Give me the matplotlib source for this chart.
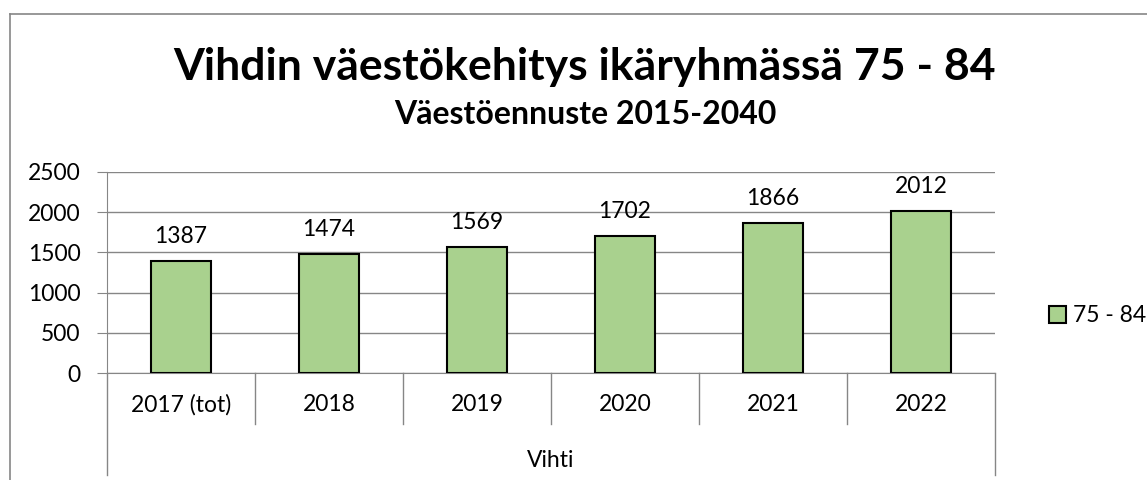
import matplotlib.pyplot as plt
import numpy as np

plt.rcParams['font.family'] = ['Lato', 'DejaVu Sans']

categories = ["2017 (tot)", "2018", "2019", "2020", "2021", "2022"]
values = [1387, 1474, 1569, 1702, 1866, 2012]
series_name = "75 - 84"
group_name = "Vihti"
yticks = [0, 500, 1000, 1500, 2000, 2500]

grid_col = "#868686"
bar_col = "#A9D18E"
W, H = 1147, 480

fig = plt.figure(figsize=(W / 100, H / 100), dpi=100)
ax = fig.add_axes([107 / W, 107 / H, 888 / W, 201 / H])

x = np.arange(len(categories))
bars = ax.bar(x, values, width=0.4, color=bar_col, edgecolor="black", linewidth=1.5, zorder=3,
              label=series_name)
for xi, v in zip(x, values):
    ax.annotate(str(v), (xi, v), xytext=(0, 13), textcoords="offset points",
                ha="center", va="baseline", fontsize=16.5, zorder=4)

ax.set_xlim(-0.5, len(categories) - 0.5)
ax.set_ylim(0, 2500)
ax.set_yticks(yticks)
ax.set_yticklabels([str(t) for t in yticks], fontsize=16.5)
ax.tick_params(axis="y", length=7, color=grid_col, pad=12)
ax.tick_params(axis="x", length=0, pad=15, labelsize=16.5)
ax.set_xticks(x)
ax.set_xticklabels(categories)
ax.grid(axis="y", color=grid_col, linewidth=1, zorder=0)
for s in ["top", "right"]:
    ax.spines[s].set_visible(False)
ax.spines["left"].set_color(grid_col)
ax.spines["bottom"].set_color(grid_col)

# multi-level category dividers
tr = ax.get_xaxis_transform()
for b in np.arange(0.5, len(categories) - 1, 1.0):
    ax.plot([b, b], [0, -51 / 201], color=grid_col, lw=1, transform=tr, clip_on=False)
for b in [-0.5, len(categories) - 0.5]:
    ax.plot([b, b], [0, -102 / 201], color=grid_col, lw=1, transform=tr, clip_on=False)
ax.text((len(categories) - 1) / 2, -94 / 201, group_name, transform=tr, ha="center",
        va="baseline", fontsize=16.5)

# legend
fig.legend(handles=[bars], labels=[series_name], loc="center left",
           bbox_to_anchor=(1028 / W, 1 - 316 / H), frameon=False, fontsize=16.5,
           handlelength=0.75, handleheight=0.75, handletextpad=0.3)

# titles
fig.text(585 / W, 1 - 80 / H, "Vihdin väestökehitys ikäryhmässä 75 - 84", ha="center",
         va="baseline", fontsize=32, fontweight="bold")
fig.text(585 / W, 1 - 124 / H, "Väestöennuste 2015-2040", ha="center", va="baseline",
         fontsize=23, fontweight="bold")

# outer chart border
fig.add_artist(plt.Line2D([10 / W, 10 / W], [0, 1 - 14 / H], color=grid_col, lw=1.2))
fig.add_artist(plt.Line2D([10 / W, 1], [1 - 14 / H, 1 - 14 / H], color=grid_col, lw=1.2))

fig.savefig("out.png", dpi=100)
